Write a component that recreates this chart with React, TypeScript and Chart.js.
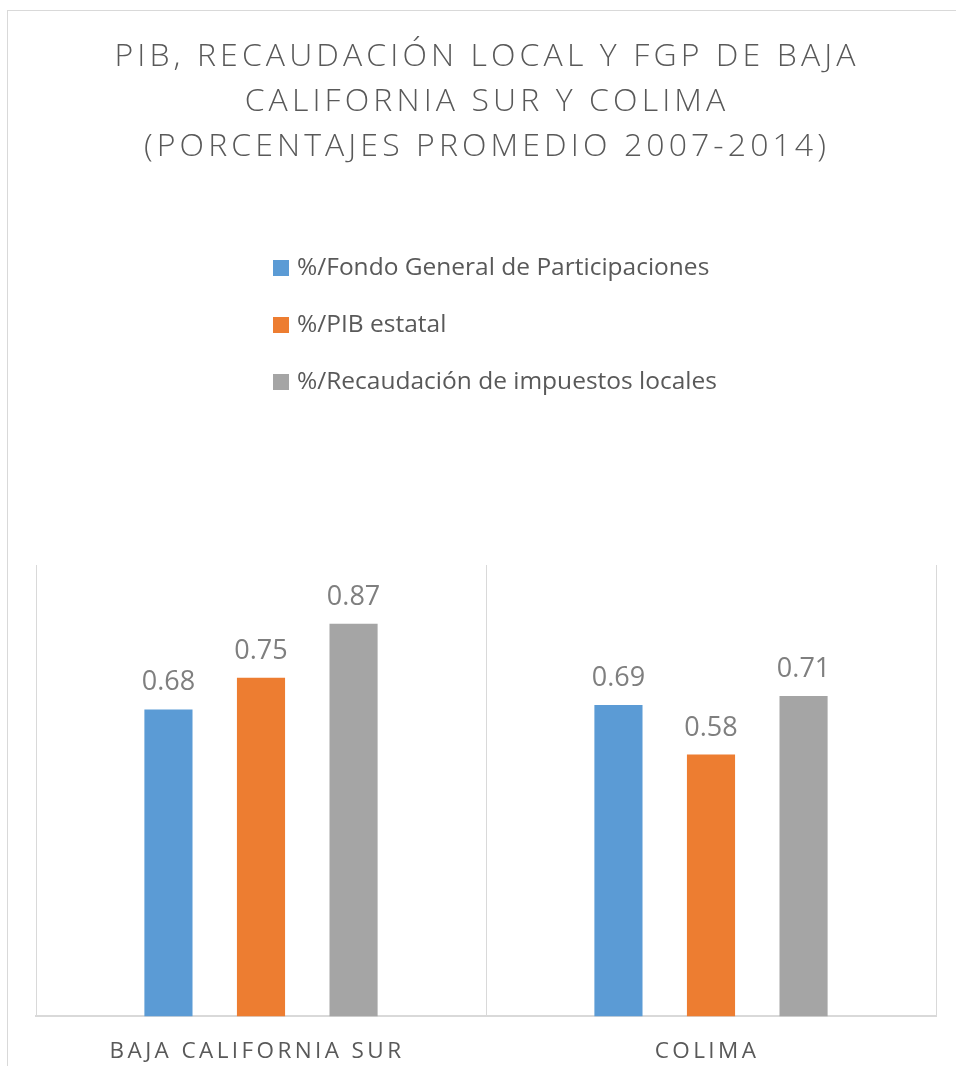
import React, { useEffect, useRef } from "react";
import { Chart, registerables } from "chart.js";

Chart.register(...registerables);

const categories = ["BAJA CALIFORNIA SUR", "COLIMA"];
const seriesNames = [
  "%/Fondo General de Participaciones",
  "%/PIB estatal",
  "%/Recaudación de impuestos locales",
];
const fgpValues = [0.68, 0.69];
const pibValues = [0.75, 0.58];
const recaudacionValues = [0.87, 0.71];
const seriesColors = ["#5B9BD5", "#ED7D31", "#A5A5A5"];
const titleLines = [
  "PIB, RECAUDACIÓN LOCAL Y FGP DE BAJA",
  "CALIFORNIA SUR Y COLIMA",
  "(PORCENTAJES PROMEDIO 2007-2014)",
];

const TEXT_COLOR = "#595959";
const LABEL_COLOR = "#7F7F7F";
const FONT = "'Open Sans', 'Noto Sans', sans-serif";

const decorPlugin = {
  id: "decor",
  beforeDraw(chart: any) {
    chart.ctx.letterSpacing = "3.4px";
  },
  afterDatasetsDraw(chart: any) {
    const ctx = chart.ctx;
    ctx.save();
    ctx.letterSpacing = "0px";
    ctx.font = `400 27px ${FONT}`;
    ctx.fillStyle = LABEL_COLOR;
    ctx.textAlign = "center";
    ctx.textBaseline = "alphabetic";
    chart.data.datasets.forEach((ds: any, di: number) => {
      const meta = chart.getDatasetMeta(di);
      meta.data.forEach((el: any, i: number) => {
        ctx.fillText(Number(ds.data[i]).toFixed(2), el.x, el.y - 19);
      });
    });
    ctx.restore();
  },
  afterDraw(chart: any) {
    const ctx = chart.ctx;
    ctx.save();
    // title
    ctx.letterSpacing = "4.1px";
    ctx.font = `300 32px ${FONT}`;
    ctx.fillStyle = TEXT_COLOR;
    ctx.textAlign = "center";
    ctx.textBaseline = "alphabetic";
    titleLines.forEach((line, i) => {
      ctx.fillText(line, 479, 55 + i * 45);
    });
    // legend
    ctx.letterSpacing = "0px";
    ctx.font = `400 24.5px ${FONT}`;
    ctx.textAlign = "left";
    chart.data.datasets.forEach((ds: any, i: number) => {
      const cy = 257 + i * 57;
      ctx.fillStyle = ds.backgroundColor;
      ctx.fillRect(265, cy - 8, 16, 16);
      ctx.fillStyle = TEXT_COLOR;
      ctx.textBaseline = "middle";
      ctx.fillText(ds.label, 289, cy);
    });
    ctx.restore();
    ctx.letterSpacing = "0px";
  },
};

export default function App() {
  const canvasRef = useRef<HTMLCanvasElement | null>(null);

  useEffect(() => {
    const canvas = canvasRef.current;
    if (!canvas) return;
    const valueSets = [fgpValues, pibValues, recaudacionValues];
    const chart = new Chart(canvas, {
      type: "bar",
      data: {
        labels: categories,
        datasets: seriesNames.map((name, i) => ({
          label: name,
          data: valueSets[i],
          backgroundColor: seriesColors[i],
          borderWidth: 0,
          categoryPercentage: 0.617,
          barPercentage: 0.52,
        })),
      },
      options: {
        responsive: false,
        animation: false,
        devicePixelRatio: 1,
        layout: { padding: { top: 554, left: 28, right: 20, bottom: 1.6 } },
        plugins: {
          legend: { display: false },
          title: { display: false },
          tooltip: { enabled: false },
        },
        scales: {
          x: {
            grid: {
              display: true,
              offset: true,
              color: "#D9D9D9",
              lineWidth: 1,
              drawTicks: false,
            },
            border: { display: true, color: "#D9D9D9", width: 2 },
            ticks: {
              color: TEXT_COLOR,
              font: { family: FONT, size: 22.5 },
              padding: 22,
              labelOffset: -4,
              maxRotation: 0,
              autoSkip: false,
            },
          },
          y: {
            display: false,
            min: 0,
            max: 1,
          },
        },
      },
      plugins: [decorPlugin],
    });
    return () => chart.destroy();
  }, []);

  return (
    <div
      style={{
        position: "fixed",
        left: 0,
        top: 0,
        width: 956,
        height: 1066,
        overflow: "hidden",
        background: "#fff",
      }}
    >
      <div
        style={{
          position: "absolute",
          left: 7,
          top: 10,
          width: 1000,
          height: 1100,
          border: "1px solid #D9D9D9",
          background: "#fff",
        }}
      >
        <canvas
          ref={canvasRef}
          width={948}
          height={1078}
          style={{ display: "block", width: 948, height: 1078 }}
        />
      </div>
    </div>
  );
}
